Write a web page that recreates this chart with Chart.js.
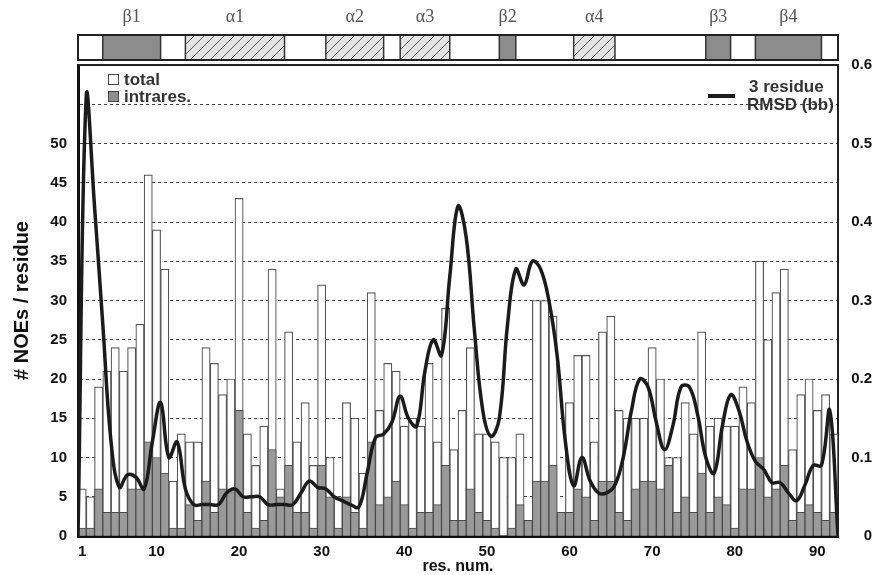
<!DOCTYPE html>
<html>
<head>
<meta charset="utf-8">
<script src="https://cdn.jsdelivr.net/npm/chart.js@4.4.1/dist/chart.umd.min.js"></script>
<style>
  html, body { margin: 0; padding: 0; background: #fff; }
  #wrap { width: 880px; height: 575px; }
</style>
</head>
<body>
<div id="wrap"><canvas id="noe"></canvas></div>
<script>
// residue numbers
var residues = [1,2,3,4,5,6,7,8,9,10,11,12,13,14,15,16,17,18,19,20,21,22,23,24,25,26,27,28,29,30,
  31,32,33,34,35,36,37,38,39,40,41,42,43,44,45,46,47,48,49,50,51,52,53,54,55,56,57,58,59,60,
  61,62,63,64,65,66,67,68,69,70,71,72,73,74,75,76,77,78,79,80,81,82,83,84,85,86,87,88,89,90,91,92];

// NOEs per residue
var totalNoes = [6,5,19,21,24,21,24,27,46,39, 34,7,13,12,12,24,22,18,20,43,
  13,9,14,34,6,26,12,17,9,32, 10,5,17,15,8,31,16,22,21,14,
  15,14,22,12,29,11,16,24,13,13, 12,10,10,13,2,30,30,28,3,17,
  23,23,12,26,28,16,15,15,15,24, 20,10,10,17,13,26,14,15,14,14,
  19,17,35,25,31,34,11,18,20,16, 18,13];
var intraNoes = [1,1,6,3,3,3,6,6,12,10, 8,1,1,4,2,7,3,6,6,16,
  3,1,2,11,5,9,3,3,1,9, 5,1,5,3,1,12,4,5,7,4,
  1,3,3,4,9,2,2,6,3,2, 1,0,1,4,2,7,7,9,3,3,
  6,5,2,7,7,3,2,6,7,7, 6,9,3,5,3,8,3,5,4,1,
  6,6,10,5,6,9,2,3,4,3, 2,3];

// 3 residue backbone RMSD, sampled between residues (0.5, 1.5 ... 92.5)
var rmsd = [0,0.56,0.42,0.27,0.12,0.062,0.078,0.075,0.06,0.12,
  0.17,0.10,0.12,0.06,0.04,0.04,0.04,0.04,0.055,0.06,
  0.05,0.05,0.05,0.04,0.04,0.04,0.04,0.055,0.07,0.062,
  0.06,0.05,0.045,0.04,0.037,0.08,0.125,0.13,0.145,0.178,
  0.15,0.14,0.21,0.25,0.23,0.33,0.42,0.38,0.26,0.16,
  0.127,0.15,0.27,0.34,0.32,0.35,0.34,0.30,0.23,0.12,
  0.064,0.10,0.07,0.055,0.055,0.065,0.10,0.16,0.2,0.19,
  0.145,0.11,0.14,0.19,0.19,0.155,0.10,0.08,0.14,0.18,
  0.16,0.12,0.095,0.085,0.068,0.068,0.055,0.045,0.065,0.09,
  0.09,0.16,0];

// secondary structure
var ssNames = ['\u03b21','\u03b11','\u03b12','\u03b13','\u03b22','\u03b14','\u03b23','\u03b24'];
var ssStart = [4,14,31,40,52,61,77,83];
var ssEnd   = [10,25,37,45,53,65,79,90];
var ssType  = ['sheet','helix','helix','helix','sheet','helix','sheet','sheet'];

var xTicks = [1,10,20,30,40,50,60,70,80,90];

var totalPts = residues.map(function(r, i){ return {x: r, y: totalNoes[i]}; });
var intraPts = residues.map(function(r, i){ return {x: r, y: intraNoes[i]}; });
var rmsdPts = rmsd.map(function(v, i){ return {x: i + 0.5, y: v}; });

var FONT = '"Liberation Sans", Arial, sans-serif';

function hatchPattern(ctx) {
  var p = document.createElement('canvas');
  p.width = 10; p.height = 10;
  var g = p.getContext('2d');
  g.fillStyle = '#e4e4e4';
  g.fillRect(0, 0, 10, 10);
  g.strokeStyle = '#5a5a5a';
  g.lineWidth = 1;
  g.beginPath();
  g.moveTo(0, 10); g.lineTo(10, 0);
  g.moveTo(-2, 2); g.lineTo(2, -2);
  g.moveTo(8, 12); g.lineTo(12, 8);
  g.stroke();
  return ctx.createPattern(p, 'repeat');
}

var decor = {
  id: 'decor',
  afterDraw: function(chart) {
    var c = chart.ctx, a = chart.chartArea, xs = chart.scales.x;
    c.save();

    // top frame
    c.strokeStyle = '#222';
    c.lineWidth = 2;
    c.beginPath();
    c.moveTo(a.left, a.top);
    c.lineTo(a.right, a.top);
    c.stroke();

    // secondary structure strip
    var top = 35, h = 25;
    c.fillStyle = '#fff';
    c.fillRect(a.left, top, a.right - a.left, h);
    var pat = hatchPattern(c);
    c.font = '18px "Liberation Serif", "DejaVu Serif", serif';
    c.textAlign = 'center';
    c.textBaseline = 'middle';
    for (var i = 0; i < ssNames.length; i++) {
      var x0 = xs.getPixelForValue(ssStart[i] - 0.5);
      var x1 = xs.getPixelForValue(ssEnd[i] + 0.5);
      c.fillStyle = ssType[i] === 'sheet' ? '#8c8c8c' : pat;
      c.fillRect(x0, top, x1 - x0, h);
      c.strokeStyle = '#333';
      c.lineWidth = 1.5;
      c.strokeRect(x0, top, x1 - x0, h);
      c.fillStyle = '#555';
      c.fillText(ssNames[i], (x0 + x1) / 2, 17);
    }
    c.lineWidth = 2;
    c.strokeStyle = '#222';
    c.strokeRect(a.left, top, a.right - a.left, h);

    // legend, left
    c.font = 'bold 17px ' + FONT;
    c.textAlign = 'left';
    c.lineWidth = 1;
    c.fillStyle = '#fff';
    c.fillRect(108.5, 74.5, 10, 10);
    c.strokeStyle = '#444';
    c.strokeRect(108.5, 74.5, 10, 10);
    c.fillStyle = '#8f8f8f';
    c.fillRect(108.5, 91.5, 10, 10);
    c.strokeRect(108.5, 91.5, 10, 10);
    c.fillStyle = '#333';
    c.fillText('total', 124, 80);
    c.fillText('intrares.', 124, 97);

    // legend, right
    c.strokeStyle = '#1b1b1b';
    c.lineWidth = 4;
    c.beginPath();
    c.moveTo(708, 96);
    c.lineTo(735, 96);
    c.stroke();
    c.fillStyle = '#333';
    c.fillText('3 residue', 749, 87);
    c.fillText('RMSD (bb)', 747, 105);

    c.restore();
  }
};

var ctx = document.getElementById('noe').getContext('2d');
var chart = new Chart(ctx, {
  type: 'bar',
  data: {
    datasets: [
      {
        type: 'line',
        label: '3 residue RMSD (bb)',
        data: rmsdPts,
        yAxisID: 'y2',
        borderColor: '#1b1b1b',
        borderWidth: 3.5,
        pointRadius: 0,
        tension: 0.4,
        fill: false,
        order: 0
      },
      {
        label: 'intrares.',
        data: intraPts,
        yAxisID: 'y',
        backgroundColor: '#9a9a9a',
        borderColor: '#4a4a4a',
        borderWidth: 1,
        grouped: false,
        barPercentage: 1,
        categoryPercentage: 1,
        order: 1
      },
      {
        label: 'total',
        data: totalPts,
        yAxisID: 'y',
        backgroundColor: '#ffffff',
        borderColor: '#555',
        borderWidth: 1.2,
        grouped: false,
        barPercentage: 1,
        categoryPercentage: 1,
        order: 2
      }
    ]
  },
  options: {
    responsive: true,
    maintainAspectRatio: false,
    animation: false,
    layout: { padding: { top: 65, left: 0, right: 8, bottom: 0 } },
    plugins: { legend: { display: false }, tooltip: { enabled: false } },
    scales: {
      x: {
        type: 'linear',
        position: 'bottom',
        min: 0.5,
        max: 92.5,
        bounds: 'data',
        offset: false,
        grid: { display: false, offset: false, drawTicks: false },
        border: { display: true, width: 3, color: '#111' },
        afterBuildTicks: function(scale) {
          scale.ticks = xTicks.map(function(v){ return {value: v}; });
        },
        afterFit: function(scale) { scale.height = 39; },
        ticks: {
          autoSkip: false,
          maxRotation: 0,
          padding: 7,
          color: '#111',
          font: { family: FONT, size: 15, weight: 'bold' },
          callback: function(v) { return String(v); }
        },
        title: {
          display: true,
          text: 'res. num.',
          color: '#111',
          font: { family: FONT, size: 16, weight: 'bold' },
          padding: { top: 0, bottom: -1 }
        }
      },
      y: {
        position: 'left',
        min: 0,
        max: 60,
        grid: { color: '#444', lineWidth: 1, drawTicks: false },
        border: { display: true, width: 3, color: '#111', dash: [3, 3] },
        afterFit: function(scale) { scale.width = 78; },
        ticks: {
          stepSize: 5,
          padding: 11,
          color: '#111',
          font: { family: FONT, size: 15, weight: 'bold' },
          callback: function(v) { return v <= 50 ? String(v) : ''; }
        },
        title: {
          display: true,
          text: '# NOEs / residue',
          color: '#111',
          font: { family: FONT, size: 20, weight: 'bold' },
          padding: { top: 10, bottom: 0 }
        }
      },
      y2: {
        position: 'right',
        min: 0,
        max: 0.6,
        grid: { display: false, drawTicks: false },
        border: { display: true, width: 2, color: '#222' },
        afterFit: function(scale) { scale.width = 34; },
        ticks: {
          stepSize: 0.1,
          padding: 4,
          crossAlign: 'far',
          color: '#111',
          font: { family: FONT, size: 15, weight: 'bold' },
          callback: function(v) { return v === 0 ? '0' : v.toFixed(1); }
        }
      }
    }
  },
  plugins: [decor]
});
</script>
</body>
</html>
